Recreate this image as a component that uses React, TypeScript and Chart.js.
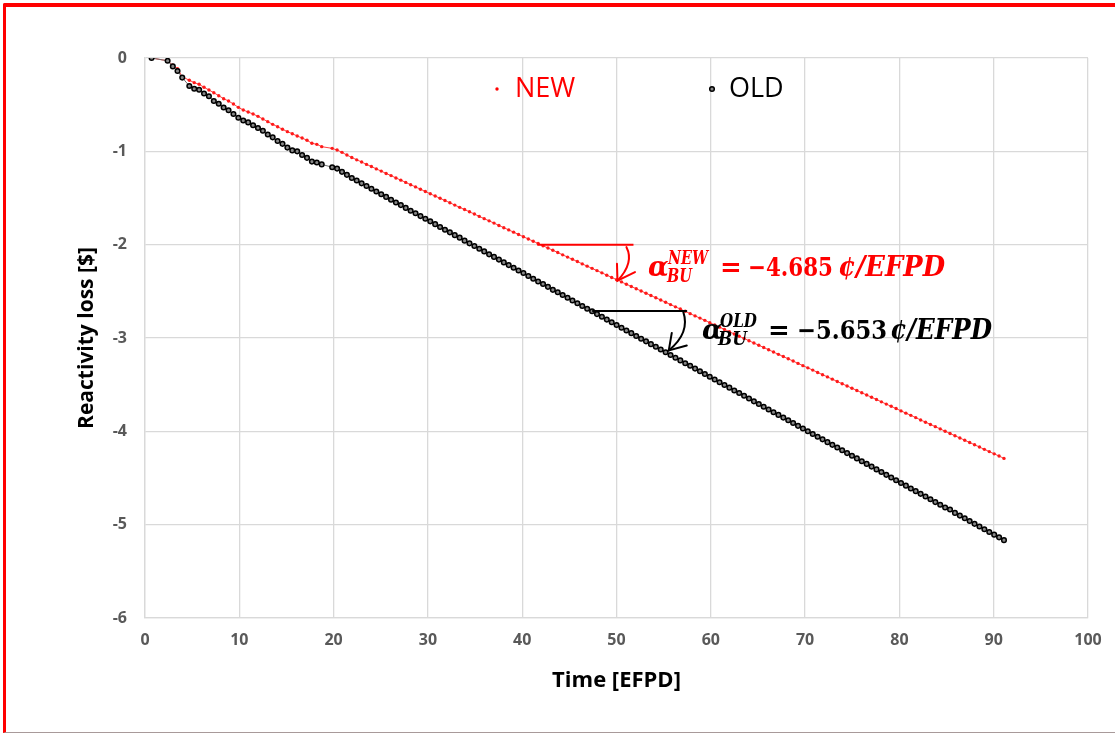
import React, { useEffect, useRef } from "react";
import { Chart, registerables } from "chart.js";

Chart.register(...registerables);

// ---- data ----
const TIME = [
  0.7, 2.4, 2.95, 3.45, 3.95,
  4.7, 5.22, 5.74, 6.26, 6.78, 7.3, 7.82, 8.34, 8.86, 9.38,
  9.9, 10.42, 10.94, 11.46, 11.98, 12.5, 13.02, 13.54, 14.06, 14.58,
  15.1, 15.62, 16.14, 16.66, 17.18, 17.7, 18.22, 18.74,
  19.85, 20.37, 20.89, 21.41, 21.93, 22.45, 22.97, 23.49, 24.01, 24.53,
  25.05, 25.57, 26.09, 26.61, 27.13, 27.65, 28.17, 28.69, 29.21, 29.73,
  30.25, 30.77, 31.29, 31.81, 32.33, 32.85, 33.37, 33.89, 34.41, 34.93,
  35.45, 35.97, 36.49, 37.01, 37.53, 38.05, 38.57, 39.09, 39.61, 40.13,
  40.65, 41.17, 41.69, 42.21, 42.73, 43.25, 43.77, 44.29, 44.81, 45.33,
  45.85, 46.37, 46.89, 47.41, 47.93, 48.45, 48.97, 49.49, 50.01, 50.53,
  51.05, 51.57, 52.09, 52.61, 53.13, 53.65, 54.17, 54.69, 55.21, 55.73,
  56.25, 56.77, 57.29, 57.81, 58.33, 58.85, 59.37, 59.89, 60.41, 60.93,
  61.45, 61.97, 62.49, 63.01, 63.53, 64.05, 64.57, 65.09, 65.61, 66.13,
  66.65, 67.17, 67.69, 68.21, 68.73, 69.25, 69.77, 70.29, 70.81, 71.33,
  71.85, 72.37, 72.89, 73.41, 73.93, 74.45, 74.97, 75.49, 76.01, 76.53,
  77.05, 77.57, 78.09, 78.61, 79.13, 79.65, 80.17, 80.69, 81.21, 81.73,
  82.25, 82.77, 83.29, 83.81, 84.33, 84.85, 85.37, 85.89, 86.41, 86.93,
  87.45, 87.97, 88.49, 89.01, 89.53, 90.05, 90.57, 91.09,
];

const NEW_LOSS = [
  0, -0.03, -0.078, -0.115, -0.2,
  -0.239, -0.264, -0.282, -0.314, -0.343, -0.372, -0.404, -0.436, -0.461, -0.493,
  -0.529, -0.557, -0.579, -0.6, -0.625, -0.654, -0.682, -0.711, -0.736, -0.764,
  -0.789, -0.811, -0.836, -0.857, -0.882, -0.914, -0.925, -0.95,
  -0.968, -0.986, -1.011, -1.04, -1.066, -1.091, -1.114, -1.14, -1.163, -1.188,
  -1.212, -1.237, -1.26, -1.285, -1.309, -1.333, -1.358, -1.381, -1.406, -1.43,
  -1.455, -1.479, -1.503, -1.527, -1.551, -1.576, -1.6, -1.624, -1.648, -1.672,
  -1.697, -1.721, -1.745, -1.769, -1.794, -1.818, -1.842, -1.866, -1.891, -1.915,
  -1.939, -1.963, -1.988, -2.012, -2.036, -2.06, -2.084, -2.109, -2.133, -2.157,
  -2.181, -2.206, -2.23, -2.254, -2.278, -2.302, -2.327, -2.351, -2.375, -2.399,
  -2.424, -2.448, -2.472, -2.496, -2.52, -2.545, -2.569, -2.593, -2.617, -2.642,
  -2.666, -2.69, -2.714, -2.739, -2.763, -2.787, -2.811, -2.836, -2.86, -2.884,
  -2.908, -2.932, -2.957, -2.981, -3.005, -3.029, -3.054, -3.078, -3.102, -3.126,
  -3.15, -3.175, -3.199, -3.223, -3.247, -3.272, -3.296, -3.32, -3.344, -3.369,
  -3.393, -3.417, -3.441, -3.466, -3.49, -3.514, -3.538, -3.562, -3.587, -3.611,
  -3.635, -3.659, -3.684, -3.708, -3.732, -3.756, -3.781, -3.805, -3.829, -3.853,
  -3.878, -3.902, -3.926, -3.95, -3.974, -3.999, -4.023, -4.047, -4.071, -4.096,
  -4.12, -4.144, -4.168, -4.193, -4.217, -4.241, -4.265, -4.29,
];

const OLD_LOSS = [
  0, -0.03, -0.09, -0.14, -0.21,
  -0.3, -0.33, -0.34, -0.38, -0.41, -0.46, -0.49, -0.53, -0.56, -0.6,
  -0.64, -0.67, -0.69, -0.72, -0.75, -0.78, -0.82, -0.85, -0.89, -0.92,
  -0.96, -0.99, -1.0, -1.04, -1.07, -1.11, -1.12, -1.14,
  -1.17, -1.185, -1.22, -1.252, -1.285, -1.312, -1.343, -1.372, -1.401, -1.43,
  -1.46, -1.488, -1.518, -1.549, -1.576, -1.606, -1.636, -1.664, -1.694, -1.722,
  -1.75, -1.78, -1.811, -1.84, -1.868, -1.898, -1.925, -1.957, -1.986, -2.015,
  -2.044, -2.072, -2.104, -2.131, -2.16, -2.19, -2.219, -2.248, -2.276, -2.304,
  -2.335, -2.365, -2.394, -2.422, -2.452, -2.484, -2.51, -2.54, -2.568, -2.598,
  -2.628, -2.657, -2.686, -2.714, -2.744, -2.773, -2.803, -2.832, -2.861, -2.89,
  -2.919, -2.948, -2.978, -3.008, -3.036, -3.066, -3.094, -3.124, -3.153, -3.182,
  -3.211, -3.24, -3.27, -3.298, -3.328, -3.357, -3.386, -3.415, -3.445, -3.474,
  -3.503, -3.532, -3.562, -3.59, -3.619, -3.648, -3.679, -3.707, -3.737, -3.766,
  -3.795, -3.824, -3.853, -3.882, -3.911, -3.941, -3.97, -3.999, -4.028, -4.058,
  -4.086, -4.116, -4.145, -4.173, -4.203, -4.233, -4.261, -4.29, -4.32, -4.349,
  -4.378, -4.408, -4.436, -4.466, -4.495, -4.524, -4.553, -4.582, -4.612, -4.641,
  -4.67, -4.698, -4.728, -4.758, -4.786, -4.816, -4.838, -4.874, -4.903, -4.932,
  -4.961, -4.991, -5.02, -5.049, -5.078, -5.107, -5.136, -5.166,
];

const SERIES_NAMES = ["NEW", "OLD"];
const X_RANGE = [0, 100];
const X_STEP = 10;
const Y_RANGE = [-6, 0];
const Y_STEP = 1;
const X_TITLE = "Time [EFPD]";
const Y_TITLE = "Reactivity loss [$]";

// slope guide lines (data coordinates) and labels
const NEW_GUIDE_X = [41.6, 51.8];
const NEW_GUIDE_Y = -2.0;
const OLD_GUIDE_X = [47.5, 57.4];
const OLD_GUIDE_Y = -2.71;
const NEW_SLOPE = "\u22124.685";
const OLD_SLOPE = "\u22125.653";
const UNIT = "\u00a2/EFPD";

const RED = "#ff0000";

function fitText(ctx: CanvasRenderingContext2D, text: string, x: number, y: number, w: number, font: string) {
  ctx.font = font;
  const m = ctx.measureText(text).width;
  let s = w / m;
  if (s > 1.35) s = 1.35;
  if (s < 0.7) s = 0.7;
  ctx.save();
  ctx.translate(x, y);
  ctx.scale(s, 1);
  ctx.fillText(text, 0, 0);
  ctx.restore();
}

function drawLabel(
  ctx: CanvasRenderingContext2D,
  color: string,
  base: number,
  sup: string,
  slope: string,
  p: { a: number; sup: number; sub: number; eq: number; num: number; numW: number; unit: number; unitW: number; supW: number; subW: number }
) {
  ctx.fillStyle = color;
  ctx.textAlign = "left";
  ctx.textBaseline = "alphabetic";
  const it = "italic bold 27px 'DejaVu Serif'";
  const sm = "italic bold 18px 'DejaVu Serif'";
  ctx.font = it;
  ctx.fillText("\u03b1", p.a, base);
  fitText(ctx, sup, p.sup, base - 12, p.supW, sm);
  fitText(ctx, "BU", p.sub, base + 6, p.subW, sm);
  ctx.font = "bold 26px 'DejaVu Serif'";
  ctx.fillText("=", p.eq, base);
  fitText(ctx, slope, p.num, base, p.numW, "bold 26px 'DejaVu Serif'");
  fitText(ctx, UNIT, p.unit, base, p.unitW, it);
}

function drawArrow(
  ctx: CanvasRenderingContext2D,
  color: string,
  ex: number,
  ey: number,
  s: [number, number],
  c: [number, number],
  t: [number, number],
  w1: [number, number],
  w2: [number, number]
) {
  ctx.strokeStyle = color;
  ctx.lineWidth = 2;
  ctx.lineCap = "round";
  ctx.beginPath();
  ctx.moveTo(ex + s[0], ey + s[1]);
  ctx.quadraticCurveTo(ex + c[0], ey + c[1], ex + t[0], ey + t[1]);
  ctx.stroke();
  const tx = ex + t[0];
  const ty = ey + t[1];
  ctx.beginPath();
  ctx.moveTo(tx + w1[0], ty + w1[1]);
  ctx.lineTo(tx, ty);
  ctx.lineTo(tx + w2[0], ty + w2[1]);
  ctx.stroke();
}

const overlayPlugin = {
  id: "overlay",
  afterDatasetsDraw(chart: any) {
    const ctx: CanvasRenderingContext2D = chart.ctx;
    const xs = chart.scales.x;
    const ys = chart.scales.y;
    ctx.save();

    // legend
    ctx.textBaseline = "middle";
    ctx.textAlign = "left";
    ctx.font = "27px 'Open Sans'";
    ctx.fillStyle = RED;
    ctx.beginPath();
    ctx.arc(497, 89, 1.7, 0, Math.PI * 2);
    ctx.fill();
    ctx.fillText(SERIES_NAMES[0], 515, 89);
    ctx.strokeStyle = "#000";
    ctx.lineWidth = 1.5;
    ctx.fillStyle = "#888";
    ctx.beginPath();
    ctx.arc(712, 89, 2.3, 0, Math.PI * 2);
    ctx.fill();
    ctx.stroke();
    ctx.fillStyle = "#000";
    ctx.fillText(SERIES_NAMES[1], 729, 89);

    // NEW guide
    const nx0 = xs.getPixelForValue(NEW_GUIDE_X[0]);
    const nx1 = xs.getPixelForValue(NEW_GUIDE_X[1]);
    const ny = ys.getPixelForValue(NEW_GUIDE_Y);
    ctx.strokeStyle = RED;
    ctx.lineWidth = 2;
    ctx.beginPath();
    ctx.moveTo(nx0, ny);
    ctx.lineTo(nx1, ny);
    ctx.stroke();
    drawArrow(ctx, RED, nx1, ny, [-7, 2.5], [1, 18], [-16, 36], [-0.5, -17], [17.5, -8.5]);

    // OLD guide
    const ox0 = xs.getPixelForValue(OLD_GUIDE_X[0]);
    const ox1 = xs.getPixelForValue(OLD_GUIDE_X[1]);
    const oy = ys.getPixelForValue(OLD_GUIDE_Y);
    ctx.strokeStyle = "#000";
    ctx.lineWidth = 2;
    ctx.beginPath();
    ctx.moveTo(ox0, oy);
    ctx.lineTo(ox1, oy);
    ctx.stroke();
    drawArrow(ctx, "#000", ox1, oy, [-3, 1], [4, 22], [-17.5, 39.5], [3, -17.5], [18, -5]);

    drawLabel(ctx, RED, 276, "NEW", NEW_SLOPE, {
      a: 648, sup: 668, supW: 40, sub: 667, subW: 25, eq: 720, num: 748, numW: 85, unit: 838, unitW: 107,
    });
    drawLabel(ctx, "#000", 339, "OLD", OLD_SLOPE, {
      a: 702, sup: 720, supW: 37, sub: 718, subW: 29, eq: 768, num: 797, numW: 90, unit: 890, unitW: 102,
    });

    ctx.restore();
  },
};

export default function App() {
  const ref = useRef<HTMLCanvasElement | null>(null);

  useEffect(() => {
    const canvas = ref.current;
    if (!canvas) return;
    const newPts = TIME.map((t, i) => ({ x: t, y: NEW_LOSS[i] }));
    const oldPts = TIME.map((t, i) => ({ x: t, y: OLD_LOSS[i] }));
    const tickFont = { family: "'Open Sans'", size: 16, weight: "bold" as const };
    const chart = new Chart(canvas, {
      type: "scatter",
      data: {
        datasets: [
          {
            label: SERIES_NAMES[1],
            data: oldPts,
            showLine: true,
            borderColor: "#6f6f6f",
            borderWidth: 1,
            pointRadius: 2.3,
            pointBorderWidth: 1.5,
            pointBorderColor: "#000",
            pointBackgroundColor: "#888",
            order: 1,
          },
          {
            label: SERIES_NAMES[0],
            data: newPts,
            showLine: true,
            borderColor: "#ff4040",
            borderWidth: 1,
            pointRadius: 1.7,
            pointBorderWidth: 0,
            pointBackgroundColor: "#ff1a1a",
            order: 2,
          },
        ],
      },
      options: {
        responsive: false,
        animation: false,
        devicePixelRatio: 1,
        layout: { padding: { left: 0, top: 58, right: 27, bottom: 0 } },
        plugins: {
          legend: { display: false },
          tooltip: { enabled: false },
        },
        scales: {
          x: {
            type: "linear",
            min: X_RANGE[0],
            max: X_RANGE[1],
            ticks: { stepSize: X_STEP, color: "#595959", font: tickFont, padding: 13, maxRotation: 0 },
            grid: { color: "#d9d9d9", lineWidth: 1.3, drawTicks: false },
            border: { display: true, color: "#d9d9d9", width: 1.3 },
            title: {
              display: true,
              text: X_TITLE,
              color: "#000",
              font: { family: "'Open Sans'", size: 22, weight: "bold" },
              padding: { top: 0, bottom: 40 },
            },
            afterFit: (axis: any) => {
              axis.height = 116;
            },
          },
          y: {
            type: "linear",
            min: Y_RANGE[0],
            max: Y_RANGE[1],
            ticks: { stepSize: Y_STEP, color: "#595959", font: tickFont, padding: 18 },
            grid: { color: "#d9d9d9", lineWidth: 1.3, drawTicks: false },
            border: { display: true, color: "#d9d9d9", width: 1.3 },
            title: {
              display: true,
              text: Y_TITLE,
              color: "#000",
              font: { family: "'Open Sans'", size: 21, weight: "bold" },
              padding: { top: 74, bottom: 0 },
            },
            afterFit: (axis: any) => {
              axis.width = 145;
            },
          },
        },
      },
      plugins: [overlayPlugin],
    });
    return () => chart.destroy();
  }, []);

  return (
    <div style={{ position: "fixed", left: 0, top: 0, width: 1115, height: 734, background: "#fff", overflow: "hidden" }}>
      <canvas ref={ref} width={1115} height={734} style={{ position: "absolute", left: 0, top: 0, width: 1115, height: 734 }} />
      <div
        style={{
          position: "absolute",
          left: 3,
          top: 3,
          width: 1120,
          height: 730,
          boxSizing: "border-box",
          borderTop: "4px solid #ff0000",
          borderLeft: "3px solid #ff0000",
          borderBottom: "1px solid #a89a9a",
          borderTopLeftRadius: 2,
          pointerEvents: "none",
        }}
      />
    </div>
  );
}
